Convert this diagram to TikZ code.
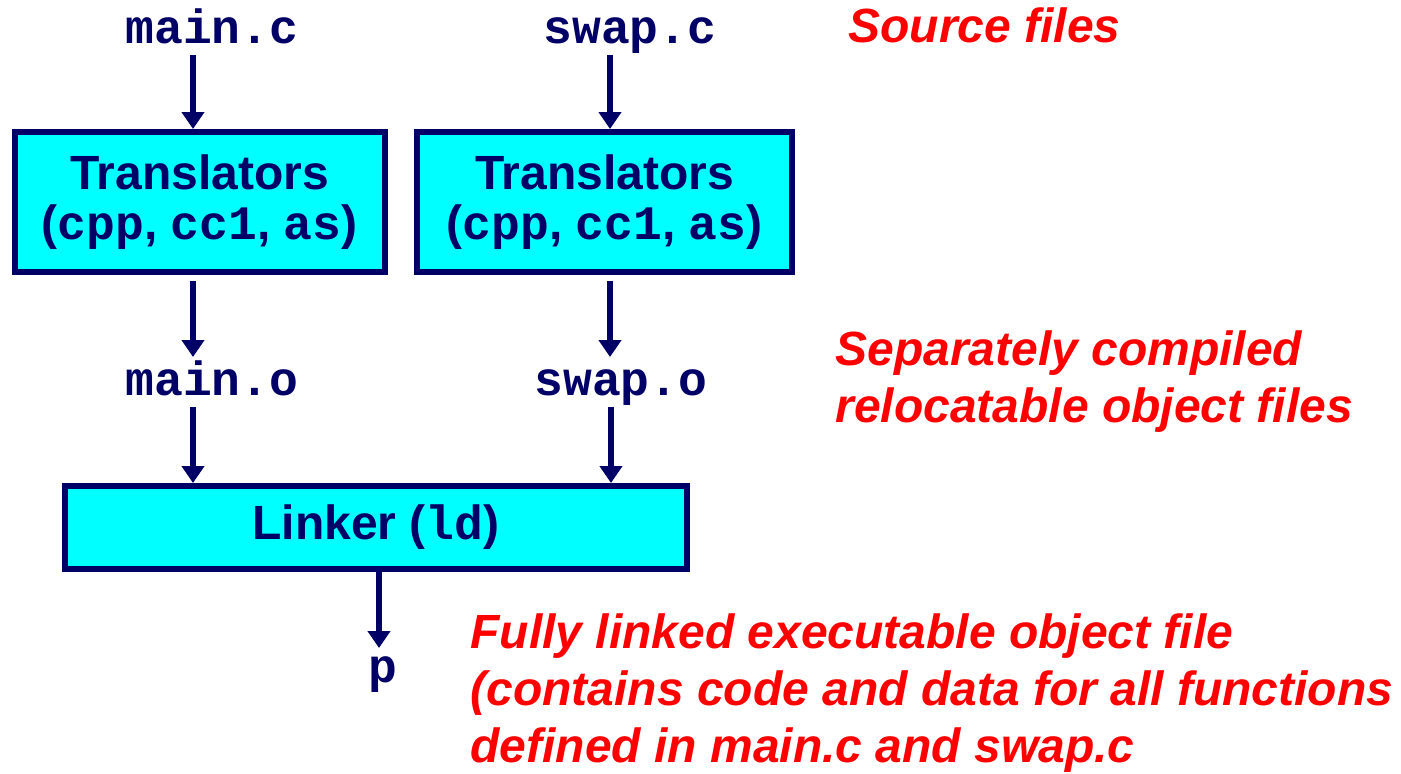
\documentclass[tikz,border=0pt]{standalone}
\usepackage{fontspec}
\setmainfont{Liberation Sans}
\newfontfamily\codefont{Liberation Mono}
\usetikzlibrary{arrows.meta}
\definecolor{navy}{RGB}{0,0,102}
\definecolor{boxcyan}{RGB}{0,255,255}
\definecolor{redtxt}{RGB}{255,0,0}
\tikzset{
  box/.style={draw=navy, fill=boxcyan, line width=3pt, inner sep=0pt, align=center,
    font=\fontsize{24}{24}\selectfont\bfseries, text=navy},
  code/.style={font=\fontsize{24}{24}\selectfont\codefont\bfseries, text=navy, inner sep=0pt},
  note/.style={font=\fontsize{24}{28.5}\selectfont\bfseries\itshape, text=redtxt, inner sep=0pt, align=left},
  arr/.style={draw=navy, line width=3pt, -{Triangle[width=11pt,length=8.5pt]}}
}
\begin{document}
\begin{tikzpicture}[x=0.5pt,y=-0.5pt]
\useasboundingbox (0,0) rectangle (1401,773);
% source files
\node[code, anchor=base] (mainc) at (212,43) {main.c};
\node[code, anchor=base] (swapc) at (630,43) {swap.c};
% translators
\node[box, minimum width=185pt, minimum height=70pt] (t1) at (199.5,202)
  {Translators\\[1pt]({\codefont cpp}, {\codefont cc1}, {\codefont as})};
\node[box, minimum width=187.5pt, minimum height=70pt] (t2) at (604.5,202)
  {Translators\\[1pt]({\codefont cpp}, {\codefont cc1}, {\codefont as})};
% object files
\node[code, anchor=base] (maino) at (212,395) {main.o};
\node[code, anchor=base] (swapo) at (621,395) {swap.o};
% linker
\node[box, minimum width=311pt, minimum height=41.5pt] (ld) at (376,527.5)
  {Linker ({\codefont ld})};
\node[code, anchor=base] (p) at (383,682) {p};
% arrow coordinates
\coordinate (a1) at (193,55);
\coordinate (a2) at (610,55);
\coordinate (m1) at (193,357);
\coordinate (m2) at (610,357);
\coordinate (b1) at (193,407);
\coordinate (b2) at (611,407);
\coordinate (pe) at (379,648);
% connectors
\draw[arr] (a1) -- (a1 |- t1.north);
\draw[arr] (a2) -- (a2 |- t2.north);
\draw[arr] ([yshift=-3pt]m1 |- t1.south) -- (m1);
\draw[arr] ([yshift=-3pt]m2 |- t2.south) -- (m2);
\draw[arr] (b1) -- (b1 |- ld.north);
\draw[arr] (b2) -- (b2 |- ld.north);
\draw[arr] (pe |- ld.south) -- (pe);
% notes
\node[note, anchor=base west] (n1) at (848,42) {Source files};
\node[note, anchor=north west] (n2) at (835,330.6) {Separately compiled\\relocatable object files};
\node[note, anchor=north west] (n3) at (470,613.6) {Fully linked executable object file\\(contains code and data for all functions\\defined in main.c and swap.c};
\end{tikzpicture}
\end{document}
